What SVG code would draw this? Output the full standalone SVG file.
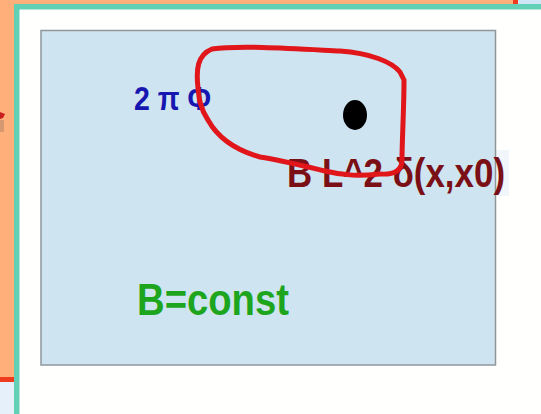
<svg xmlns="http://www.w3.org/2000/svg" width="541" height="414" viewBox="0 0 541 414">
  <style>
    .lbl { font-family: "Liberation Sans", Arial, sans-serif; font-weight: bold; }
  </style>
  <g id="background">
    <rect x="0" y="0" width="541" height="414" fill="#fffffe"/>
    <rect x="0" y="0" width="14" height="378" fill="#ffb07a"/>
    <rect x="0" y="0" width="514" height="5" fill="#ffb07a"/>
    <rect x="513" y="0" width="5" height="5" fill="#f03c1e"/>
    <rect x="518" y="0" width="23" height="5" fill="#cfe6f7"/>
    <rect x="0" y="377" width="14" height="5" fill="#f03c1e"/>
    <rect x="0" y="382" width="14" height="32" fill="#e6f0fb"/>
    <path d="M0,112 L5,114 L3,118 L0,119 Z" fill="#c81e1e"/>
    <rect x="0" y="120" width="4" height="12" fill="#b98a6a" opacity="0.6"/>
    <rect x="14" y="4" width="527" height="5.5" fill="#62d0b4"/>
    <rect x="14" y="4" width="5.5" height="410" fill="#62d0b4"/>
  </g>
  <g id="panel">
    <rect x="496" y="150" width="13" height="46" fill="#f0f6fa"/>
    <rect x="41" y="30.5" width="454.5" height="334.5" fill="#cfe4f1" stroke="#8f969a" stroke-width="1.5"/>
  </g>
  <g id="label-flux">
    <text class="lbl" x="134" y="110" font-size="33" fill="#1616b0" textLength="77" lengthAdjust="spacingAndGlyphs">2 π Φ</text>
  </g>
  <g id="label-source">
    <text class="lbl" x="287" y="187" font-size="40" fill="#7a1016" textLength="218" lengthAdjust="spacingAndGlyphs">B L^2 δ(x,x0)</text>
  </g>
  <g id="label-field">
    <text class="lbl" x="137" y="315" font-size="44" fill="#1ea51e" textLength="152" lengthAdjust="spacingAndGlyphs">B=const</text>
  </g>
  <g id="connectors">
    <path d="M198,88 C196,70 197,55 212,49 C240,45 300,49 340,51 C370,53 392,62 400,72 L404,80 C404,110 402,140 402,160 C402,170 395,175 380,174 C360,176 345,176 325,171 C300,165 280,160 260,157 C235,150 218,138 208,120 C200,108 199,98 198,88 Z" fill="none" stroke="#e0161a" stroke-width="5" stroke-linejoin="round"/>
  </g>
  <g id="point-source">
    <ellipse cx="355" cy="115" rx="12" ry="15" fill="#000000"/>
  </g>
</svg>
